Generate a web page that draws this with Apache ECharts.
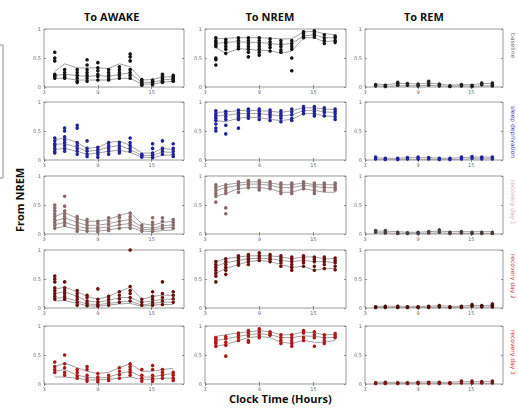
<!DOCTYPE html>
<html>
<head>
<meta charset="utf-8">
<script src="https://cdn.jsdelivr.net/npm/echarts@6/dist/echarts.min.js"></script>
<style>
  html, body { margin: 0; padding: 0; background: #fff; }
  #chart { width: 518px; height: 408px; }
</style>
</head>
<body>
<div id="chart"></div>
<script>
// time bins (clock hours) shared by every panel
const hours = [4.2, 5.3, 6.7, 7.8, 9.0, 10.2, 11.4, 12.6, 13.9, 15.1, 16.2, 17.4];
const xTickLabels = [3, 9, 15];
const yTickLabels = [0, 0.5, 1];
const columnTitles = ['To AWAKE', 'To NREM', 'To REM'];
const rowLabels = ['baseline', 'sleep deprivation', 'recovery day 1', 'recovery day 2', 'recovery day 3'];

// values are in percent (0-100), one list of animals per time bin
// ---- row 1 (black)
const awake1Dots = [[60,50,45,22,20,18,15],[30,25,20,17,15],[30,25,20,15,10,8],[47,38,30,25,20,15,10],[42,33,28,22,18,12],[30,25,20,15,12],[35,30,25,20,15],[57,52,45,30,25,20,15],[13,10,7,5,3],[12,10,7,4],[22,18,14,10,8],[20,17,14,12,10]];
const awake1Lines = [[27,40,33,33,33,32,40,35,12,13,17,18],[20,22,20,18,20,18,22,24,8,8,12,14],[15,15,12,12,12,12,15,15,5,5,8,10]];
const nrem1Dots = [[85,80,77,73,70,50,47,38],[82,78,75,70,65,58],[85,80,75,70,66],[85,80,75,70,65,60,52],[85,80,75,70,65,60,55],[83,78,73,68,62],[80,75,70,64,60],[80,75,70,65,50,28],[95,92,88,85],[97,93,90,86],[90,85,80,75],[88,85,80,77]];
const nrem1Lines = [[83,84,85,85,85,84,83,83,95,96,92,90],[75,77,78,77,77,75,73,75,88,90,85,85],[68,58,66,65,63,63,58,62,85,85,78,80]];
const rem1Dots = [[4,2],[3,1],[8,5,3],[6,3],[5,2],[10,6,3],[5,2],[2,1],[4,2],[3,1],[7,4],[7,4,2]];
const rem1Lines = [[5,4,6,6,5,7,5,3,4,4,6,6],[2,1,2,2,2,3,2,1,2,1,2,2]];
// ---- row 2 (blue)
const awake2Dots = [[38,33,28,25,20,15,12],[55,50,40,35,30,25,20,15],[60,55,30,25,20,15,10],[33,20,15,10,6],[22,18,14,10,5],[30,25,20,15,10],[30,25,20,15,12],[38,30,25,20,15],[10,8,5],[28,20,12,8,4],[33,20,15,10],[28,20,15,10,6]];
const awake2Lines = [[35,38,30,20,22,30,33,25,12,12,20,18],[27,28,22,15,17,22,25,18,8,8,14,13],[18,20,15,10,12,15,17,13,5,4,8,9]];
const nrem2Dots = [[85,80,76,72,68,62,55,50],[84,80,75,70,60,45],[86,82,78,74,70,55],[88,84,80,76,72],[88,84,80,76,70],[86,82,78,74,68],[85,80,76,72,66],[88,83,78,72,68],[92,88,84,80],[92,88,84,80,76],[90,86,82,76],[88,84,80,75,70]];
const nrem2Lines = [[82,83,85,86,85,84,82,85,90,90,88,87],[76,77,80,80,80,78,76,78,85,86,83,82],[68,66,72,74,73,70,68,70,80,80,76,75]];
const rem2Dots = [[5,2],[3,1],[3,1],[4,2],[5,2],[4,2],[3,1],[3,1],[5,2],[6,3],[5,2],[5,2]];
const rem2Lines = [[4,3,3,4,4,4,3,3,4,5,5,5],[1,1,1,1,1,1,1,1,1,2,2,2]];
// ---- row 3 (mauve)
const awake3Dots = [[50,45,40,35,30,25,20,15,10],[65,48,40,35,30,25,20,15],[30,25,20,15,10,5],[25,20,15,10,5],[22,18,12,8,4],[28,22,16,10,6],[32,28,22,16,10],[36,30,25,20,15,10],[15,10,5],[28,20,15,10,5],[28,22,15,10],[25,20,15,10]];
const awake3Lines = [[30,37,27,22,22,25,32,37,18,15,20,22],[22,28,20,15,15,18,22,25,12,10,14,16],[16,20,13,10,10,12,16,18,8,7,10,12],[10,13,8,5,5,7,10,12,5,4,6,7]];
const nrem3Dots = [[85,80,75,70,65,55],[85,80,75,70,45,35],[90,86,82,78,72],[92,88,84,80],[92,88,84,80,76],[90,86,82,78],[88,84,80,75,70],[88,84,80,75,70],[90,86,82,78],[88,84,80,75,70],[88,84,80,75],[88,84,80,76]];
const nrem3Lines = [[80,85,88,90,90,88,85,85,88,85,85,85],[75,80,84,86,86,84,80,80,84,82,80,80],[65,70,78,80,80,78,72,72,78,75,72,72]];
const rem3Dots = [[6,3],[6,2],[3,1],[2,1],[3,1],[4,2],[7,3],[3,1],[4,2],[3,1],[3,1],[3,1]];
const rem3Lines = [[5,5,4,3,3,4,5,4,4,4,4,4],[2,2,1,1,1,1,2,1,1,1,1,1]];
// ---- row 4 (dark red)
const awake4Dots = [[55,50,45,35,30,25,20,15],[45,35,30,25,20,15],[30,25,20,15,10,5],[22,18,12,8,4],[33,15,10,6,3],[20,15,10,5],[28,22,16,10],[100,37,30,25,18,12],[15,10,5],[28,20,15,10,5],[45,25,18,12,6],[28,22,16,10]];
const awake4Lines = [[32,36,28,20,15,20,28,36,15,20,22,22],[25,28,20,12,10,13,18,18,10,12,15,15],[17,18,12,7,6,8,10,12,5,8,10,10],[12,13,8,4,3,5,7,8,3,5,6,6]];
const nrem4Dots = [[80,75,70,65,60,55,45],[85,80,75,70,65,58],[90,86,82,78,74],[92,88,84,80,75],[95,90,86,82],[92,88,84,80],[90,86,82,78,72],[88,84,80,75,70,65],[90,86,82,78,72],[88,84,80,72,65],[88,84,80,75,68],[86,82,78,72,66]];
const nrem4Lines = [[80,85,88,90,90,90,88,85,88,88,85,85],[72,78,82,85,86,85,82,80,82,80,80,78],[60,68,75,80,82,80,75,70,72,65,68,68]];
const rem4Dots = [[2,1],[3,1],[3,1],[2,1],[2,1],[3,1],[4,2],[2,1],[3,1],[6,3],[4,2],[7,4,2]];
const rem4Lines = [[3,3,3,3,3,3,4,3,3,5,4,5],[1,1,1,1,1,1,1,1,1,2,1,2]];
// ---- row 5 (red)
const awake5Dots = [[38,30,25,20],[50,35,28,20,15],[25,20,14,10],[30,25,15,10,5],[18,12,8,4],[15,10,6],[28,22,16,10],[35,30,25,20,15],[25,15,10,5],[32,25,15,10,5],[25,20,15,10],[20,15,10,6]];
const awake5Lines = [[30,36,28,22,18,20,28,35,22,22,25,27],[22,25,15,12,10,12,18,22,12,12,16,18],[12,12,10,7,7,8,10,12,8,8,10,10]];
const nrem5Dots = [[80,77,73,70,65],[82,78,72,67,48],[88,85,80,75],[92,88,83,75,72],[95,90,85,80],[90,87,84],[85,80,75,70],[85,80,75,70,65],[92,88,80,75],[90,85,80,65],[85,80,75,70],[87,83,80]];
const nrem5Lines = [[82,85,88,90,92,90,85,85,90,88,85,85],[75,78,82,85,87,85,80,80,83,82,80,80],[65,68,75,80,82,80,72,70,75,72,72,75]];
const rem5Dots = [[2,1],[3,1],[2,1],[2,1],[3,1],[3,1],[3,1],[2,1],[5,2],[5,2],[4,2],[5,2]];
const rem5Lines = [[3,3,3,3,3,4,3,3,4,4,4,4],[1,1,1,1,1,1,1,1,1,1,1,1]];

const panels = [
  [[awake1Dots, awake1Lines], [nrem1Dots, nrem1Lines], [rem1Dots, rem1Lines]],
  [[awake2Dots, awake2Lines], [nrem2Dots, nrem2Lines], [rem2Dots, rem2Lines]],
  [[awake3Dots, awake3Lines], [nrem3Dots, nrem3Lines], [rem3Dots, rem3Lines]],
  [[awake4Dots, awake4Lines], [nrem4Dots, nrem4Lines], [rem4Dots, rem4Lines]],
  [[awake5Dots, awake5Lines], [nrem5Dots, nrem5Lines], [rem5Dots, rem5Lines]]
];

// layout / style
const rowColor = ['#141414', '#22229a', '#8c6a6a', '#6e1010', '#b01818'];
const remColor = ['#222222', '#22229a', '#4a3c3c', '#4e0c0c', '#801414'];
const labelColor = ['#777777', '#3c3cc8', '#e8a8c8', '#c84848', '#e83030'];
const colLeft = [44, 205, 365];
const colWidth = [140, 141, 138];
const rowTop = [29, 102, 176, 250, 326];
const panelH = 58;

const grids = [], xAxes = [], yAxes = [], series = [];
const tickStyle = { color: '#8a8a8a', width: 1 };
const lblStyle = { fontSize: 5, color: '#6a6a6a', fontFamily: 'DejaVu Sans' };

panels.forEach((row, r) => {
  row.forEach((p, c) => {
    const gi = grids.length;
    grids.push({
      left: colLeft[c], top: rowTop[r], width: colWidth[c], height: panelH,
      show: true, borderColor: '#9a9a9a', borderWidth: 1, backgroundColor: '#fff'
    });
    // bottom + top x axes, left + right y axes (ticks mirrored like the original)
    ['bottom', 'top'].forEach((pos, k) => {
      xAxes.push({
        gridIndex: gi, type: 'value', position: pos, min: 3, max: 18.6, interval: 6,
        axisLine: { show: false }, splitLine: { show: false },
        axisTick: { inside: true, length: 2, lineStyle: tickStyle, customValues: xTickLabels },
        axisLabel: Object.assign({ show: k === 0, margin: 2, customValues: xTickLabels }, lblStyle)
      });
    });
    ['left', 'right'].forEach((pos, k) => {
      yAxes.push({
        gridIndex: gi, type: 'value', position: pos, min: 0, max: 1, interval: 0.5,
        axisLine: { show: false }, splitLine: { show: false },
        axisTick: { inside: true, length: 2, lineStyle: tickStyle, customValues: yTickLabels },
        axisLabel: Object.assign({ show: k === 0, margin: 3, customValues: yTickLabels }, lblStyle)
      });
    });
    const xi = gi * 2, yi = gi * 2;
    const [dots, lines] = p;
    lines.forEach(l => {
      series.push({
        type: 'line', xAxisIndex: xi, yAxisIndex: yi, silent: true, z: 2,
        symbol: 'none', lineStyle: { color: '#a0a0a0', width: 1 },
        data: hours.map((h, k) => [h, l[k] / 100])
      });
    });
    const pts = [];
    dots.forEach((bin, k) => bin.forEach(v => pts.push([hours[k], v / 100])));
    series.push({
      type: 'scatter', xAxisIndex: xi, yAxisIndex: yi, silent: true, z: 3,
      symbolSize: 3.6, itemStyle: { color: c === 2 ? remColor[r] : rowColor[r], opacity: 1 },
      data: pts
    });
  });
});

const graphic = [];
columnTitles.forEach((t, c) => {
  graphic.push({
    type: 'text', left: colLeft[c] + colWidth[c] / 2 - 30, top: 11,
    style: { text: t, fill: '#111', font: 'bold 11px "Open Sans"', width: 60, align: 'center' }
  });
});
graphic.push({
  type: 'text', x: 14, y: 232, rotation: Math.PI / 2,
  style: { text: 'From NREM', fill: '#111', font: 'bold 11px "Open Sans"' }
});
graphic.push({
  type: 'text', x: 229, y: 393,
  style: { text: 'Clock Time (Hours)', fill: '#111', font: 'bold 11px "Open Sans"' }
});
rowLabels.forEach((t, r) => {
  graphic.push({
    type: 'text', x: 516, y: rowTop[r] + 4, rotation: -Math.PI / 2,
    style: { text: t, fill: labelColor[r], font: '6px "DejaVu Sans"' }
  });
});
// remnant of the neighbouring panel at the left edge
graphic.push({
  type: 'polyline',
  shape: { points: [[0, 45], [3, 45], [3, 178], [0, 178]] },
  style: { stroke: '#8a8a8a', lineWidth: 1, fill: null }
});

const chart = echarts.init(document.getElementById('chart'), null, { renderer: 'svg' });
chart.setOption({
  animation: false,
  backgroundColor: '#fff',
  grid: grids,
  xAxis: xAxes,
  yAxis: yAxes,
  series: series,
  graphic: graphic
});
</script>
</body>
</html>
